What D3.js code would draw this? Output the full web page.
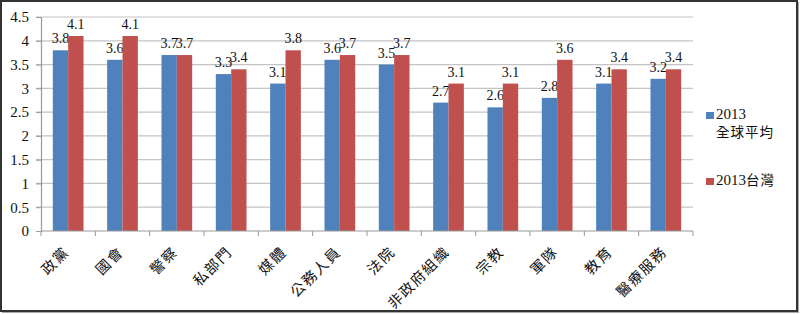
<!DOCTYPE html>
<html><head><meta charset="utf-8">
<script src="https://cdn.jsdelivr.net/npm/d3@7"></script>
<style>body{margin:0;background:#fff}</style>
</head><body>
<svg id="c" width="800" height="314"></svg>
<script>
const categories = ["政黨","國會","警察","私部門","媒體","公務人員","法院","非政府組織","宗教","軍隊","教育","醫療服務"];
const globalAvg = [3.8,3.6,3.7,3.3,3.1,3.6,3.5,2.7,2.6,2.8,3.1,3.2];
const taiwan = [4.1,4.1,3.7,3.4,3.8,3.7,3.7,3.1,3.1,3.6,3.4,3.4];
const yTicks = [0,0.5,1,1.5,2,2.5,3,3.5,4,4.5];
const seriesNames = [["2013","全球平均"],["2013台灣"]];
const colors = ["#4F81BD","#C0504D"];

const svg = d3.select("#c");
const numFont = "'Liberation Serif','Times New Roman',serif";
const cjkFont = "'Noto Sans CJK TC','Noto Sans CJK SC',sans-serif";

// frame
svg.append("rect").attr("x",2).attr("y",2).attr("width",797).attr("height",311).attr("fill","#aaa");
svg.append("rect").attr("x",1).attr("y",1).attr("width",796).attr("height",310).attr("fill","#fff").attr("stroke","#333").attr("stroke-width",2);

const L=41,R=693,T=17,B=231;
const x = d3.scaleBand().domain(categories).range([L,R]);
const y = d3.scaleLinear().domain([0,4.5]).range([B,T]);
const groupW = x.bandwidth()*0.565;
const xs = d3.scaleBand().domain([0,1]).range([0,groupW]);

// gridlines
svg.append("g").selectAll("line").data(yTicks.filter(d=>d>0)).join("line")
  .attr("x1",L-5).attr("x2",R).attr("y1",d=>y(d)).attr("y2",d=>y(d))
  .attr("stroke","#c4c4c4").attr("stroke-width",1.2);

// y axis
const ya = svg.append("g").attr("transform",`translate(${L},0)`)
  .call(d3.axisLeft(y).tickValues(yTicks).tickSize(5).tickPadding(7).tickFormat(d=>d3.format("")(d)));
ya.select(".domain").attr("stroke","#999").attr("stroke-width",1.2);
ya.selectAll(".tick line").attr("stroke","#999");
ya.selectAll("text").style("font-family",numFont).attr("font-size",15).attr("fill","#111");

// bars
const series=[globalAvg,taiwan];
series.forEach((vals,si)=>{
  const g=svg.append("g");
  g.selectAll("rect").data(vals).join("rect")
    .attr("x",(d,i)=>x(categories[i])+(x.bandwidth()-groupW)/2+xs(si))
    .attr("width",xs.bandwidth())
    .attr("y",d=>y(d)).attr("height",d=>B-y(d))
    .attr("fill",colors[si]);
  g.selectAll("text").data(vals).join("text")
    .attr("x",(d,i)=>x(categories[i])+(x.bandwidth()-groupW)/2+xs(si)+xs.bandwidth()/2)
    .attr("y",d=>y(d)-7)
    .attr("text-anchor","middle")
    .style("font-family",numFont).attr("font-size",14).attr("fill","#111")
    .text(d=>d3.format(".1f")(d));
});

// x axis
const xa = svg.append("g").attr("transform",`translate(0,${B})`);
xa.append("line").attr("x1",L).attr("x2",R).attr("stroke","#999").attr("stroke-width",1.2);
const bounds = d3.range(categories.length+1).map(i=>L+i*x.step());
xa.selectAll("line.tk").data(bounds).join("line").attr("class","tk")
  .attr("x1",d=>d).attr("x2",d=>d).attr("y1",0).attr("y2",5).attr("stroke","#999");
xa.selectAll("text").data(categories).join("text")
  .attr("transform",d=>`translate(${x(d)+x.bandwidth()/2+2},${22}) rotate(-45)`)
  .attr("text-anchor","end")
  .style("font-family",cjkFont).attr("font-size",14.5).attr("letter-spacing",1.5).attr("fill","#111")
  .text(d=>d);

// legend
const lg = svg.append("g");
const ly=[112,178];
seriesNames.forEach((nm,i)=>{
  lg.append("rect").attr("x",706).attr("y",ly[i]).attr("width",8).attr("height",7).attr("fill",colors[i]);
  nm.forEach((t,j)=>{
    const tx = lg.append("text").attr("x",716).attr("y",ly[i]+7+j*18).attr("font-size",15).attr("fill","#111");
    const m = t.match(/^(\d*)(.*)$/);
    if(m[1]) tx.append("tspan").style("font-family",numFont).text(m[1]);
    if(m[2]) tx.append("tspan").style("font-family",cjkFont).attr("font-size",13.5).attr("letter-spacing",1).text(m[2]);
  });
});
</script>
</body></html>
